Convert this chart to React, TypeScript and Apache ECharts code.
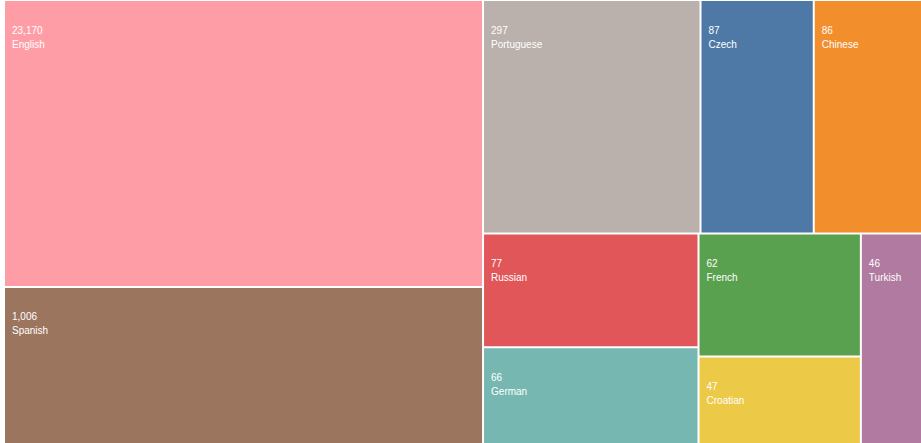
import React, { useEffect, useRef } from "react";
import * as echarts from "echarts";

// Languages, the counts printed on each tile, and the relative tile weights
const languages = ["English", "Spanish", "Portuguese", "Czech", "Chinese", "Russian", "German", "French", "Croatian", "Turkish"];
const counts = [23170, 1006, 297, 87, 86, 77, 66, 62, 47, 46];
const tileWeights = [136230, 74568, 50344, 26216, 25056, 24295, 20640, 19764, 14094, 12749];
const colors = ["#ff9da7", "#9c755f", "#bab0ac", "#4e79a7", "#f28e2b", "#e15759", "#76b7b2", "#59a14f", "#edc948", "#b07aa1"];

export default function App() {
  const ref = useRef<HTMLDivElement>(null);
  useEffect(() => {
    if (!ref.current) return;
    const chart = echarts.init(ref.current, null, { renderer: "svg" });
    const data = languages.map((name, i) => ({
      name,
      value: [tileWeights[i], counts[i]],
      itemStyle: { color: colors[i] },
    }));
    chart.setOption({
      animation: false,
      series: [
        {
          type: "treemap",
          left: 5,
          top: 1,
          right: 0,
          bottom: 0,
          roam: false,
          nodeClick: false,
          breadcrumb: { show: false },
          squareRatio: 0.5 * (1 + Math.sqrt(5)),
          levels: [
            { itemStyle: { borderWidth: 0, gapWidth: 2, borderColor: "#fff" } },
            { itemStyle: { borderWidth: 0, gapWidth: 0 } },
          ],
          label: {
            show: true,
            position: [2, 17],
            color: "#fff",
            fontSize: 10,
            lineHeight: 14,
            fontFamily: "Liberation Sans, Arial, sans-serif",
            formatter: (p: any) => `${Number(p.value[1]).toLocaleString("en-US")}\n${p.name}`,
          },
          upperLabel: { show: false },
          data,
        },
      ],
    });
    return () => chart.dispose();
  }, []);
  return (
    <div
      ref={ref}
      style={{ position: "fixed", left: 0, top: 0, width: 921, height: 443, background: "#fff" }}
    />
  );
}
